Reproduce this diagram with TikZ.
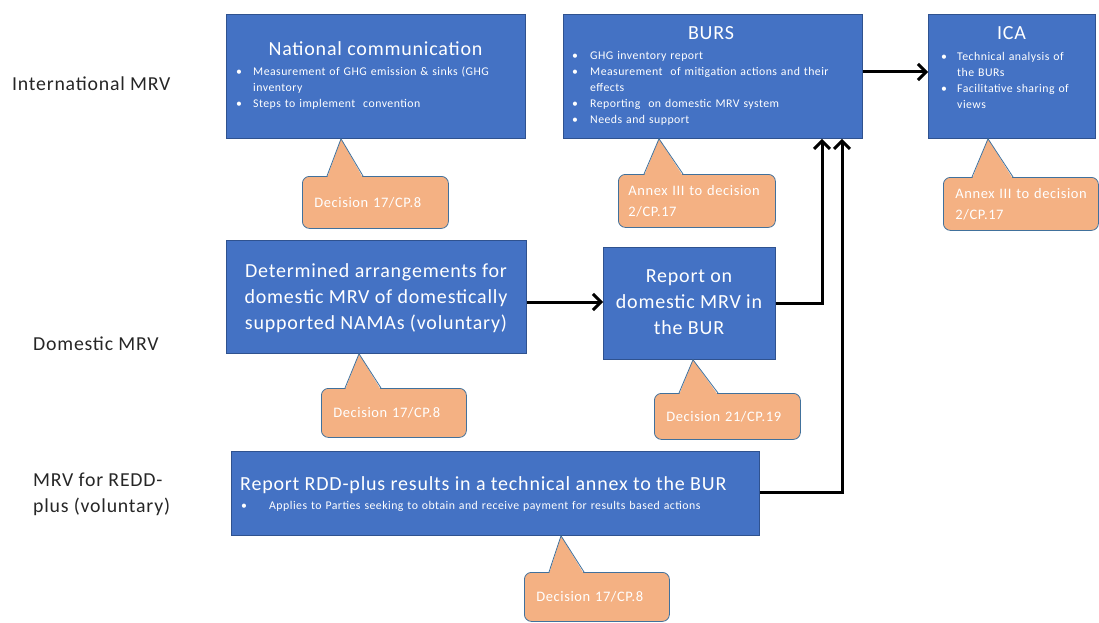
\documentclass[tikz,border=0pt]{standalone}
\usepackage{fontspec}
\setmainfont{Carlito}[LetterSpace=4]
\usetikzlibrary{arrows.meta,calc}
\definecolor{boxblue}{HTML}{4472C4}
\definecolor{boxedge}{HTML}{2F528F}
\definecolor{notefill}{HTML}{F4B183}
\definecolor{noteedge}{HTML}{41719C}
% bullet item with hanging indent (one paragraph per item)
\newcommand\bitem[2][17pt]{\hangindent=#1\hangafter=1\makebox[#1][l]{\textbullet}#2\par}
% callout tail: #1 note node, #2 target node, #3 apex x, #4 base left x, #5 base right x
\newcommand\notetail[5]{%
  \fill[notefill] ($(#4,0 |- #1.north)+(0,2)$) -- (#3,0 |- #2.south) -- ($(#5,0 |- #1.north)+(0,2)$) -- cycle;
  \draw[noteedge, line width=0.8pt, line join=miter] (#4,0 |- #1.north) -- (#3,0 |- #2.south) -- (#5,0 |- #1.north);
}
\begin{document}
\begin{tikzpicture}[x=1pt, y=-1pt,
  box/.style={draw=boxedge, fill=boxblue, line width=0.8pt, inner sep=0, anchor=north west},
  note/.style={draw=noteedge, fill=notefill, line width=0.8pt, rounded corners=7pt,
    anchor=north west, inner xsep=12pt, inner ysep=0pt, align=left, text=white,
    font=\fontsize{14.5}{21}\selectfont},
  head/.style={text=white, inner sep=0, anchor=base, font=\fontsize{20}{26}\selectfont},
  blist/.style={text=white, inner sep=0, anchor=base west, align=left,
    font=\fontsize{11.8}{16}\selectfont},
  lbl/.style={text=black!85, inner sep=0, anchor=base west, align=left,
    font=\fontsize{19.8}{26}\selectfont},
  conn/.style={line width=3pt, -{Straight Barb[length=8pt,width=16pt]}}]
\useasboundingbox (0,0) rectangle (1099,623);

% row labels
\node[lbl] (lint) at (12,91) {International MRV};
\node[lbl] (ldom) at (33,350) {Domestic MRV};
\node[lbl] (lredd) at (33,512) {MRV for REDD-\\plus (voluntary)};

% main boxes
\node[box, minimum width=299pt, minimum height=124pt] (nc) at (226,14) {};
\node[box, minimum width=299pt, minimum height=124pt] (burs) at (563,14) {};
\node[box, minimum width=167pt, minimum height=124pt] (ica) at (928,14) {};
\node[box, minimum width=300pt, minimum height=113pt] (det) at (226,240) {};
\node[box, minimum width=172pt, minimum height=112pt] (rep) at (603,247) {};
\node[box, minimum width=528pt, minimum height=84pt] (rdd) at (231,451) {};

% box texts
\node[head] (nct) at (375.5,56) {National communication};
\node[blist, text width=285pt] (ncl) at (236,75.5) {%
  \bitem{Measurement of GHG emission \& sinks (GHG\newline inventory}
  \bitem{Steps to implement\ \ convention}};

\node[head] (burst) at (711,40) {BURS};
\node[blist, text width=290pt] (bursl) at (572,59.5) {%
  \bitem[18pt]{GHG inventory report}
  \bitem[18pt]{Measurement\ \ of mitigation actions and their\newline effects}
  \bitem[18pt]{Reporting\ \ on domestic MRV system}
  \bitem[18pt]{Needs and support}};

\node[head] (icat) at (1011.5,40) {ICA};
\node[blist, text width=155pt] (ical) at (941,60.5) {%
  \bitem[16pt]{Technical analysis of\newline the BURs}
  \bitem[16pt]{Facilitative sharing of\newline views}};

\node[head, align=center] (dett) at (376,329) {Determined arrangements for\\domestic MRV of domestically\\supported NAMAs (voluntary)};
\node[head, align=center] (rept) at (689,334) {Report on\\domestic MRV in\\the BUR};

\node[head, anchor=base west] (rddt) at (240,490) {Report RDD-plus results in a technical annex to the BUR};
\node[blist, text width=515pt] (rddl) at (241,509.5) {%
  \bitem[28pt]{Applies to Parties seeking to obtain and receive payment for results based actions}};

% callouts
\node[note, text width=122pt, minimum height=52pt] (ncn) at (302,176) {Decision 17/CP.8};
\node[note, inner xsep=10pt, text width=137pt, minimum height=53pt] (bursn) at (618,174) {Annex III to decision\\2/CP.17};
\node[note, text width=131pt, minimum height=53pt] (ican) at (943,177) {Annex III to decision\\2/CP.17};
\node[note, text width=121pt, minimum height=49pt] (detn) at (321,388) {Decision 17/CP.8};
\node[note, text width=122pt, minimum height=46pt] (repn) at (654,393) {Decision 21/CP.19};
\node[note, text width=121pt, minimum height=49pt] (rddn) at (524,572) {Decision 17/CP.8};

\notetail{ncn}{nc}{341}{327}{363}
\notetail{bursn}{burs}{659}{644}{683}
\notetail{ican}{ica}{988}{972}{1013}
\notetail{detn}{det}{359}{345}{381}
\notetail{repn}{rep}{693}{679}{718}
\notetail{rddn}{rdd}{561}{549}{584}

% connectors
\draw[conn] (burs.east |- 0,72) -- (ica.west |- 0,72);
\draw[conn] (det.east |- 0,302) -- (rep.west |- 0,302);
\draw[conn] (rep.east |- 0,303) -| (822,0 |- burs.south);
\draw[conn] (rdd.east |- 0,492) -| (842,0 |- burs.south);
\end{tikzpicture}
\end{document}
